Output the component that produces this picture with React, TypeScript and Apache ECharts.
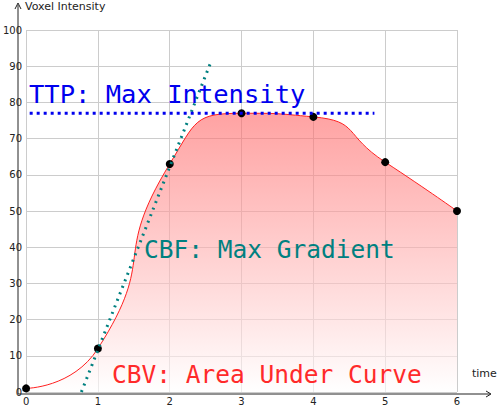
import React, { useEffect, useRef } from "react";
import * as echarts from "echarts";

const times = [0, 1, 2, 3, 4, 5, 6];
const intensity = [1, 12, 63, 77, 76, 63.5, 50];
const tangent = [[0.77, 0], [2.57, 91]];
const ttpLine = [[0.05, 77], [4.85, 77]];

export default function App() {
  const ref = useRef<HTMLDivElement>(null);
  useEffect(() => {
    const chart = echarts.init(ref.current!, null, { renderer: "svg" });
    const mono = "DejaVu Sans Mono";
    chart.setOption({
      animation: false,
      grid: { left: 18, right: 41, top: 30, bottom: 12, containLabel: false },
      xAxis: {
        type: "value", min: 0, max: 6, interval: 1,
        axisLine: { show: false }, axisTick: { show: false },
        axisLabel: { color: "#222", fontFamily: "DejaVu Sans", fontSize: 10, margin: 4 },
        splitLine: { lineStyle: { color: "#ccc" } },
      },
      yAxis: {
        type: "value", min: 0, max: 100, interval: 10,
        axisLine: { show: false }, axisTick: { show: false },
        axisLabel: { color: "#222", fontFamily: "DejaVu Sans", fontSize: 10, margin: 4 },
        splitLine: { lineStyle: { color: "#ccc" } },
      },
      series: [
        {
          type: "line", data: times.map((t, i) => [t, intensity[i]]), smooth: 0.6,
          symbol: "circle", symbolSize: 8, itemStyle: { color: "#000" },
          lineStyle: { color: "#ff2020", width: 1 },
          areaStyle: {
            color: new echarts.graphic.LinearGradient(0, 0, 0, 1, [
              { offset: 0, color: "rgba(255,100,100,0.85)" },
              { offset: 1, color: "rgba(255,255,255,0.9)" },
            ]),
          },
          z: 2,
        },
        {
          type: "line", data: tangent, symbol: "none",
          lineStyle: { color: "#008080", width: 3, type: [2, 5] }, z: 3,
        },
        {
          type: "line", data: ttpLine, symbol: "none",
          lineStyle: { color: "#0000ee", width: 3, type: [3, 4] }, z: 3,
        },
      ],
      graphic: [
        { type: "line", shape: { x1: 18, y1: 394, x2: 490, y2: 394 }, style: { stroke: "#222", lineWidth: 1 }, z: 10 },
        { type: "line", shape: { x1: 18, y1: 394, x2: 18, y2: 5 }, style: { stroke: "#222", lineWidth: 1 }, z: 10 },
        { type: "polyline", shape: { points: [[486, 391], [491, 394], [486, 397]] }, style: { stroke: "#222", fill: "none" }, z: 10 },
        { type: "polyline", shape: { points: [[15, 9], [18, 3], [21, 9]] }, style: { stroke: "#222", fill: "none" }, z: 10 },
        { type: "text", left: 25, top: 1, style: { text: "Voxel Intensity", font: "11px DejaVu Sans", fill: "#222" } },
        { type: "text", left: 472, top: 368, style: { text: "time", font: "11px DejaVu Sans", fill: "#222" } },
        { type: "text", left: 29, top: 81, style: { text: "TTP: Max Intensity", font: "25.5px " + mono, fill: "#0000ee" }, z: 11 },
        { type: "text", left: 144, top: 237, style: { text: "CBF: Max Gradient", font: "24.5px " + mono, fill: "#008080" }, z: 11 },
        { type: "text", left: 112, top: 362, style: { text: "CBV: Area Under Curve", font: "24.5px " + mono, fill: "#ff2a2a" }, z: 11 },
      ],
    });
    return () => chart.dispose();
  }, []);
  return <div ref={ref} style={{ width: 498, height: 406, position: "absolute", left: 0, top: 0, background: "#fff" }} />;
}
